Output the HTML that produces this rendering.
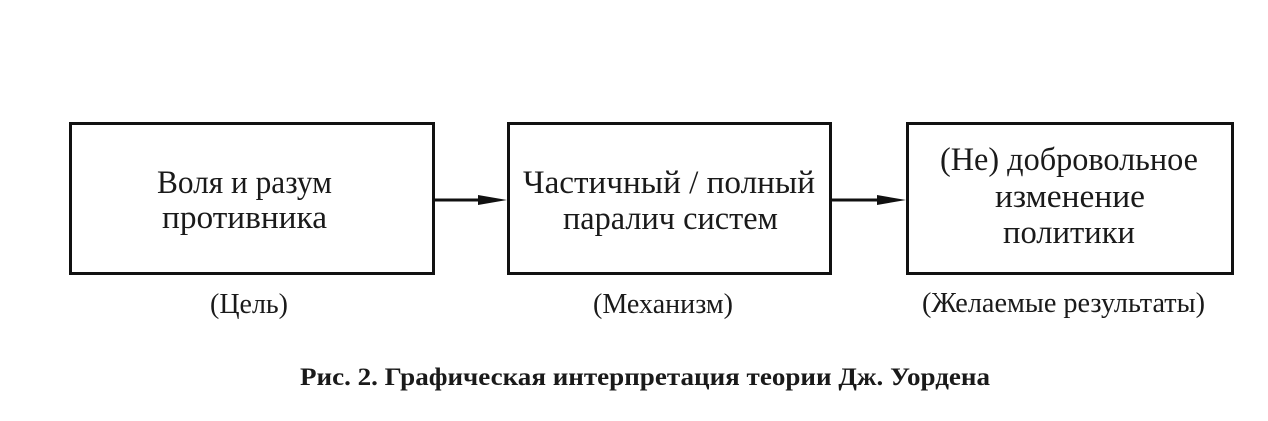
<!DOCTYPE html>
<html>
<head>
<meta charset="utf-8">
<style>
  html, body { margin: 0; padding: 0; background: #ffffff; }
  body { width: 1268px; height: 421px; overflow: hidden; }
  svg { display: block; }
  text { font-family: "Liberation Serif", "Noto Serif CJK SC", serif; fill: #1a1a1a; }
</style>
</head>
<body>
<svg width="1268" height="421" viewBox="0 0 1268 421" xmlns="http://www.w3.org/2000/svg">
  <rect x="0" y="0" width="1268" height="421" fill="#ffffff"/>

  <!-- Boxes -->
  <rect x="70.5" y="123.5" width="363" height="150" fill="none" stroke="#111" stroke-width="3"/>
  <rect x="508.5" y="123.5" width="322" height="150" fill="none" stroke="#111" stroke-width="3"/>
  <rect x="907.5" y="123.5" width="325" height="150" fill="none" stroke="#111" stroke-width="3"/>

  <!-- Arrows -->
  <line x1="435" y1="200" x2="482" y2="200" stroke="#111" stroke-width="3"/>
  <polygon points="478,195 507,200 478,205" fill="#111"/>
  <line x1="832" y1="200" x2="880" y2="200" stroke="#111" stroke-width="3"/>
  <polygon points="877,195 906,200 877,205" fill="#111"/>

  <!-- Box 1 text -->
  <text x="157" y="193" font-size="33" textLength="175" lengthAdjust="spacingAndGlyphs">Воля и разум</text>
  <text x="162" y="228" font-size="33" textLength="165" lengthAdjust="spacingAndGlyphs">противника</text>

  <!-- Box 2 text -->
  <text x="523" y="193" font-size="33" textLength="292" lengthAdjust="spacingAndGlyphs">Частичный / полный</text>
  <text x="563" y="229" font-size="33" textLength="215" lengthAdjust="spacingAndGlyphs">паралич систем</text>

  <!-- Box 3 text -->
  <text x="940" y="170" font-size="33" textLength="258" lengthAdjust="spacingAndGlyphs">(Не) добровольное</text>
  <text x="995" y="207" font-size="33" textLength="150" lengthAdjust="spacingAndGlyphs">изменение</text>
  <text x="1003" y="243" font-size="33" textLength="132" lengthAdjust="spacingAndGlyphs">политики</text>

  <!-- Labels below -->
  <text x="210" y="313" font-size="29" textLength="78" lengthAdjust="spacingAndGlyphs">(Цель)</text>
  <text x="593" y="313" font-size="29" textLength="140" lengthAdjust="spacingAndGlyphs">(Механизм)</text>
  <text x="922" y="312" font-size="29" textLength="283" lengthAdjust="spacingAndGlyphs">(Желаемые результаты)</text>

  <!-- Caption -->
  <text x="300" y="385" font-size="25" font-weight="bold" textLength="690" lengthAdjust="spacingAndGlyphs">Рис. 2. Графическая интерпретация теории Дж. Уордена</text>
</svg>
</body>
</html>
